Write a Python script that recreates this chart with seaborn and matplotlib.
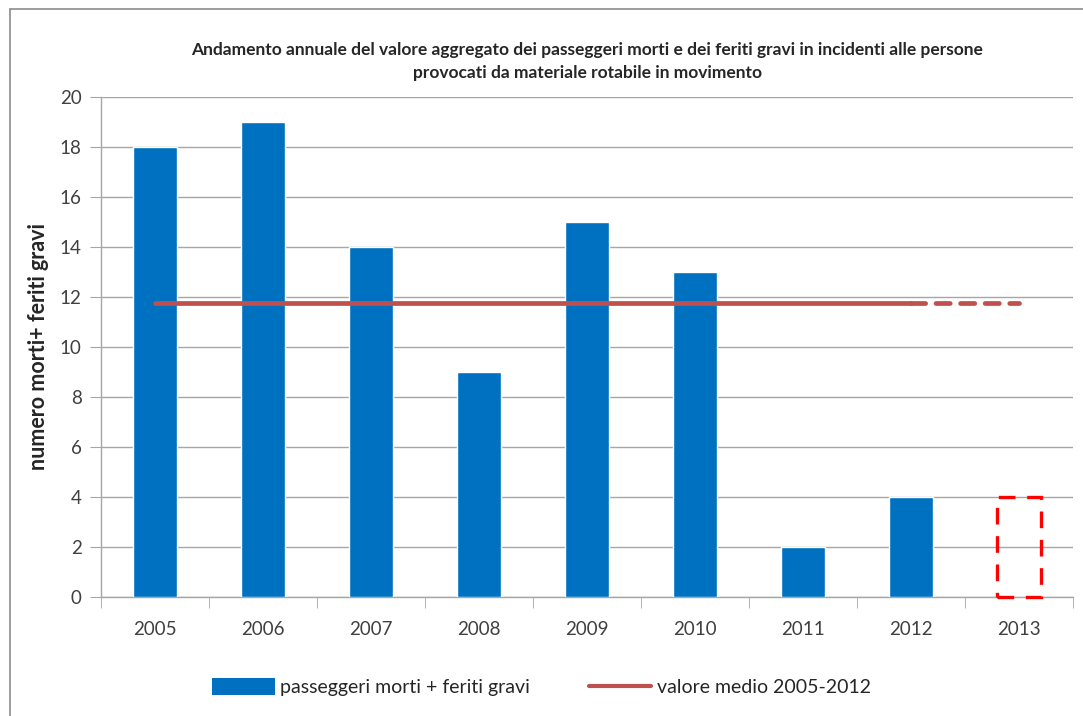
import numpy as np
import pandas as pd
import matplotlib
matplotlib.use("Agg")
import matplotlib.pyplot as plt
import seaborn as sns
from matplotlib.lines import Line2D
from matplotlib.patches import Patch

# Data
years = ['2005', '2006', '2007', '2008', '2009', '2010', '2011', '2012', '2013']
casualties = [18, 19, 14, 9, 15, 13, 2, 4, 0]
forecast_2013 = 4
mean_years = ['2005', '2012']

title = ('Andamento annuale del valore aggregato dei passeggeri morti e dei feriti gravi in incidenti alle persone\n'
         'provocati da materiale rotabile in movimento')

sns.set_style('white')
plt.rcParams['font.family'] = ['Lato', 'DejaVu Sans']

df = pd.DataFrame({'anno': years, 'valore': casualties})
mean_val = np.mean(casualties[:8])

fig = plt.figure(figsize=(10.83, 7.16), dpi=100)
ax = fig.add_axes([0.0933, 0.1662, 0.8975, 0.6983])

sns.barplot(data=df, x='anno', y='valore', color='#0070c0', saturation=1,
            width=0.4, ax=ax, zorder=3)

# 2013 forecast: dashed outline bar
ax.bar(8, forecast_2013, width=0.4, fill=False, edgecolor='#ff0000',
       linewidth=2.4, linestyle=(0, (5, 3.5)), zorder=4, clip_on=False)

# mean line: solid over 2005-2012, dashed toward 2013
i0, i1 = years.index(mean_years[0]), years.index(mean_years[1])
ax.plot([i0, i1], [mean_val, mean_val], color='#c0504d', lw=3.4,
        solid_capstyle='round', zorder=4)
ax.plot([i1, len(years) - 1], [mean_val, mean_val], color='#c0504d', lw=3.4,
        linestyle=(0, (3, 2.2)), dash_capstyle='round', zorder=4)

ax.set_ylim(0, 20)
ax.set_xlim(-0.5, len(years) - 0.5)
ax.set_yticks(range(0, 21, 2))
ax.yaxis.grid(True, color='#a6a6a6', lw=1.0, zorder=0)
ax.set_xlabel('')
ax.set_ylabel('numero morti+ feriti gravi', fontsize=15.5, fontweight='bold', labelpad=8)
ax.set_title(title, fontsize=12.5, fontweight='bold', pad=14, linespacing=1.5)

for s in ['top', 'right']:
    ax.spines[s].set_visible(False)
for s in ['left', 'bottom']:
    ax.spines[s].set_color('#a6a6a6')
    ax.spines[s].set_linewidth(1.0)

ax.tick_params(axis='y', left=True, length=8, color='#a6a6a6', labelsize=13.5,
               labelcolor='#404040', pad=6)
ax.tick_params(axis='x', bottom=False, labelsize=13.5, labelcolor='#404040', pad=14)
ax.set_xticks(np.arange(-0.5, len(years), 1), minor=True)
ax.tick_params(axis='x', which='minor', bottom=True, length=8, color='#a6a6a6')

handles = [Patch(facecolor='#0070c0', edgecolor='none'),
           Line2D([0], [0], color='#c0504d', lw=3)]
fig.legend(handles, ['passeggeri morti + feriti gravi', 'valore medio 2005-2012'],
           loc='center', bbox_to_anchor=(0.5, 0.04), ncol=2, frameon=False,
           fontsize=14, handlelength=3.2, handleheight=0.9, handletextpad=0.3,
           columnspacing=3.0, labelcolor='#262626')

# outer chart frame
fig.add_artist(Line2D([10 / 1083, 10 / 1083], [0, 1 - 9 / 716], transform=fig.transFigure,
                      color='#8c8c8c', lw=1.2))
fig.add_artist(Line2D([10 / 1083, 1], [1 - 9 / 716, 1 - 9 / 716], transform=fig.transFigure,
                      color='#8c8c8c', lw=1.2))

fig.savefig('out.png', dpi=100)
